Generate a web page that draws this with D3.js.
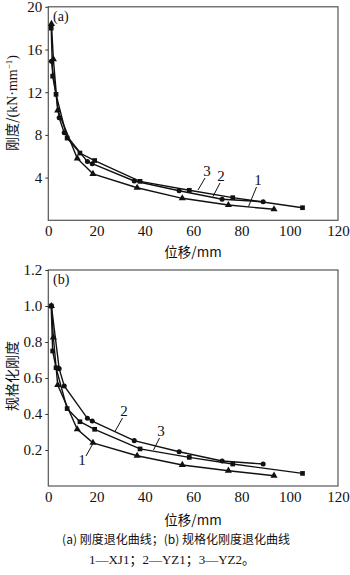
<!DOCTYPE html>
<html><head><meta charset="utf-8">
<script src="https://cdn.jsdelivr.net/npm/d3@7"></script>
<style>
body{margin:0;background:#fff;}
svg text{font-family:"Liberation Serif","Noto Sans CJK SC",serif;fill:#111;}
</style></head>
<body><svg id="c" width="350" height="575"></svg>
<script>
// Series 1 — XJ1 (triangles)
const s1X = [1.3, 2.1, 3.9, 12.0, 18.5, 36.8, 55.5, 74.6, 93.5];
const s1K = [18.4, 15.1, 10.3, 5.8, 4.35, 3.05, 2.06, 1.43, 1.03];
const s1N = [1.0, 0.826, 0.561, 0.315, 0.24, 0.168, 0.117, 0.085, 0.057];
// Series 2 — YZ1 (circles)
const s2X = [1.3, 4.5, 6.6, 16.2, 18.2, 35.6, 54.2, 72.0, 89.0];
const s2K = [14.9, 9.6, 8.2, 5.5, 5.3, 3.68, 2.77, 1.97, 1.74];
const s2N = [1.0, 0.652, 0.556, 0.376, 0.361, 0.252, 0.19, 0.139, 0.122];
// Series 3 — YZ2 (squares)
const s3X = [1.2, 1.8, 3.2, 7.8, 13.1, 19.2, 38.0, 58.4, 76.4, 105.3];
const s3K = [18.0, 13.5, 11.8, 7.7, 6.3, 5.6, 3.65, 2.81, 2.12, 1.18];
const s3N = [1.0, 0.75, 0.657, 0.43, 0.357, 0.315, 0.206, 0.159, 0.122, 0.07];

const xTicks = [0, 20, 40, 60, 80, 100, 120];
const yTicksA = [4, 8, 12, 16, 20];
const yTicksB = [0.2, 0.4, 0.6, 0.8, 1.0, 1.2];
const yTickLabelsB = ["0.2", "0.4", "0.6", "0.8", "1.0", "1.2"];

const svg = d3.select("#c");
const serif = '"Liberation Serif","Noto Sans CJK SC",serif';
const cjk = '"Noto Sans CJK SC",sans-serif';

function panel(o) {
  const x = d3.scaleLinear().domain([0, 120]).range([48.3, 338]);
  const y = d3.scaleLinear().domain(o.yDom).range(o.yRange);
  const g = svg.append("g");
  g.append("rect").attr("x", x(0)).attr("y", y(o.yDom[1]))
    .attr("width", x(120) - x(0)).attr("height", y(o.yDom[0]) - y(o.yDom[1]))
    .attr("fill", "none").attr("stroke", "#555").attr("stroke-width", 1.2);
  const xa = g.append("g").attr("transform", `translate(0,${y(o.yDom[0])})`)
    .call(d3.axisBottom(x).tickValues(xTicks).tickSize(0).tickPadding(5));
  xa.select(".domain").remove();
  xa.selectAll("text").attr("font-size", 15).style("font-family", serif).attr("fill", "#111");
  const ya = g.append("g").attr("transform", `translate(${x(0)},0)`)
    .call(d3.axisLeft(y).tickValues(o.yTicks).tickSize(3).tickPadding(3)
      .tickFormat((d, i) => o.yLabels ? o.yLabels[i] : d));
  ya.select(".domain").remove();
  ya.selectAll("line").attr("stroke", "#333");
  ya.selectAll("text").attr("font-size", 15).style("font-family", serif).attr("fill", "#111");
  const line = d3.line().x(d => x(d[0])).y(d => y(d[1]));
  const series = [
    {xs: s1X, ys: o.vals[0], m: "tri"},
    {xs: s2X, ys: o.vals[1], m: "cir"},
    {xs: s3X, ys: o.vals[2], m: "sq"}
  ];
  series.forEach(s => {
    const pts = s.xs.map((v, i) => [v, s.ys[i]]);
    g.append("path").datum(pts).attr("d", line).attr("fill", "none")
      .attr("stroke", "#111").attr("stroke-width", 1.4);
    const sym = s.m === "tri" ? d3.symbolTriangle : s.m === "cir" ? d3.symbolCircle : d3.symbolSquare;
    const size = s.m === "tri" ? 22 : s.m === "cir" ? 20 : 22;
    g.selectAll(null).data(pts).join("path")
      .attr("d", d3.symbol().type(sym).size(size))
      .attr("transform", d => `translate(${x(d[0])},${y(d[1])})`)
      .attr("fill", "#111");
  });
  g.append("text").attr("x", 53).attr("y", y(o.yDom[1]) + 14).attr("font-size", 14)
    .style("font-family", serif).text(o.tag);
  g.append("text").attr("x", 193).attr("y", o.xTitleY).attr("text-anchor", "middle")
    .attr("font-size", 13.5).style("font-family", cjk).text("位移/mm");
  const yt = g.append("text").attr("transform", `translate(17,${o.yTitleC}) rotate(-90)`)
    .attr("text-anchor", "middle").attr("font-size", 14).style("font-family", cjk);
  o.yTitle.forEach(p => {
    const ts = yt.append("tspan").text(p.t).style("font-family", p.f === "s" ? serif : cjk);
    if (p.sup) ts.attr("font-size", 9).attr("baseline-shift", "super");
  });
  o.labels.forEach(l => {
    g.append("text").attr("x", l.tx).attr("y", l.ty).attr("text-anchor", "middle")
      .attr("font-size", 15).style("font-family", serif).text(l.t);
    g.append("line").attr("x1", l.l[0]).attr("y1", l.l[1]).attr("x2", l.l[2]).attr("y2", l.l[3])
      .attr("stroke", "#111").attr("stroke-width", 1);
  });
  return g;
}

panel({
  yDom: [0, 20], yRange: [220.3, 6.8], yTicks: yTicksA,
  vals: [s1K, s2K, s3K], tag: "(a)", xTitleY: 257, yTitleC: 103,
  yTitle: [{t: "刚度/", f: "c"}, {t: "(kN·mm", f: "s"}, {t: "−1", f: "s", sup: true}, {t: ")", f: "s"}],
  labels: [
    {t: "3", tx: 207, ty: 176, l: [205, 178, 198, 190]},
    {t: "2", tx: 221, ty: 181, l: [220, 183, 213, 196.5]},
    {t: "1", tx: 258, ty: 185, l: [256.5, 187, 248.5, 206.5]}
  ]
});

panel({
  yDom: [0, 1.2], yRange: [486, 270], yTicks: yTicksB, yLabels: yTickLabelsB,
  vals: [s1N, s2N, s3N], tag: "(b)", xTitleY: 525, yTitleC: 376,
  yTitle: [{t: "规格化刚度", f: "c"}],
  labels: [
    {t: "2", tx: 124, ty: 416, l: [122.5, 418, 115, 431.5]},
    {t: "3", tx: 161, ty: 436, l: [159.5, 438, 153.5, 450]},
    {t: "1", tx: 82, ty: 465, l: [86, 456, 93, 443.5]}
  ]
});

svg.append("text").attr("x", 176).attr("y", 544).attr("text-anchor", "middle")
  .attr("font-size", 12).style("font-family", cjk).attr("fill", "#222")
  .text("(a) 刚度退化曲线；(b) 规格化刚度退化曲线");
svg.append("text").attr("x", 172).attr("y", 564).attr("text-anchor", "middle")
  .attr("font-size", 13).style("font-family", serif).attr("fill", "#222")
  .text("1—XJ1；2—YZ1；3—YZ2。");
</script></body></html>
